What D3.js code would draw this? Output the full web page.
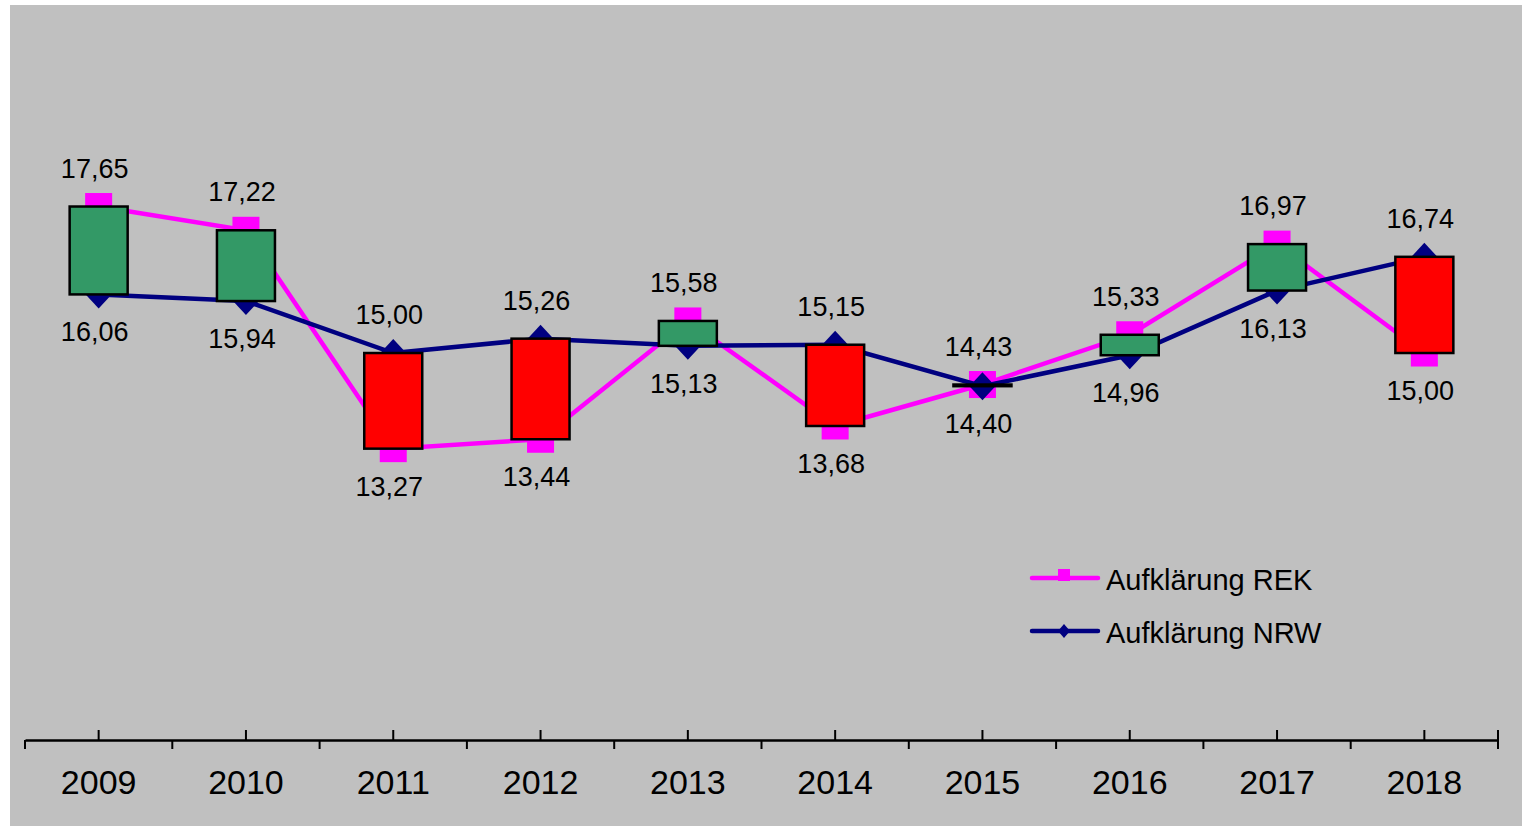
<!DOCTYPE html>
<html>
<head>
<meta charset="utf-8">
<script src="https://cdn.jsdelivr.net/npm/d3@7"></script>
<style>
  body { margin: 0; background: #fff; }
  svg { display: block; font-family: "Liberation Sans", Arial, sans-serif; }
</style>
</head>
<body>
<div id="chart"></div>
<script>
const years = ['2009', '2010', '2011', '2012', '2013', '2014', '2015', '2016', '2017', '2018'];
const rek = [17.65, 17.22, 13.27, 13.44, 15.58, 13.68, 14.43, 15.33, 16.97, 15.00];
const nrw = [16.06, 15.94, 15.00, 15.26, 15.13, 15.15, 14.40, 14.96, 16.13, 16.74];
const seriesNames = ['Aufklärung REK', 'Aufklärung NRW'];

const width = 1526, height = 829;
const pink = '#FF00FF', navy = '#000080', up = '#339966', down = '#FF0000';

const de = d3.formatLocale({ decimal: ',', thousands: '.', grouping: [3], currency: ['', ' €'] });
const fmt = de.format('.2f');

const svg = d3.select('#chart').append('svg')
  .attr('width', width)
  .attr('height', height);

svg.append('rect')
  .attr('x', 10).attr('y', 5)
  .attr('width', 1512).attr('height', 821)
  .attr('fill', '#C0C0C0');

const x = d3.scaleBand().domain(years).range([25, 1498]).padding(0);
const y = d3.scaleLinear().domain([8, 20]).range([740, 76.6]);
const cx = d => x(d) + x.bandwidth() / 2;

// axis: up-ticks at category centres, down-ticks at boundaries
const axis = svg.append('g').attr('transform', 'translate(0,740)');
axis.call(d3.axisBottom(x).tickSize(-10).tickPadding(0).tickSizeOuter(0))
  .call(g => g.select('.domain').attr('stroke', '#000').attr('stroke-width', 2.5))
  .call(g => g.selectAll('.tick line').attr('stroke', '#000').attr('stroke-width', 2))
  .call(g => g.selectAll('.tick text')
    .attr('font-size', 34).attr('font-family', '"Liberation Sans", Arial, sans-serif')
    .attr('fill', '#000').attr('y', 54).attr('dy', 0));

axis.selectAll('.bound')
  .data(d3.range(years.length + 1))
  .join('line')
  .attr('x1', i => 25 + i * x.step())
  .attr('x2', i => 25 + i * x.step())
  .attr('y1', i => i === years.length ? -10 : 0)
  .attr('y2', 9)
  .attr('stroke', '#000').attr('stroke-width', 2);

const line = d3.line().x(d => cx(d[0])).y(d => y(d[1]));

// REK series
svg.append('path')
  .datum(years.map((yr, i) => [yr, rek[i]]))
  .attr('fill', 'none').attr('stroke', pink).attr('stroke-width', 4.5)
  .attr('d', line);
svg.selectAll('.mrek')
  .data(years)
  .join('rect')
  .attr('x', d => cx(d) - 13.5)
  .attr('y', (d, i) => y(rek[i]) - 13.5)
  .attr('width', 27).attr('height', 27)
  .attr('fill', pink);

// NRW series
svg.append('path')
  .datum(years.map((yr, i) => [yr, nrw[i]]))
  .attr('fill', 'none').attr('stroke', navy).attr('stroke-width', 4.5)
  .attr('d', line);
svg.selectAll('.mnrw')
  .data(years)
  .join('path')
  .attr('d', (d, i) => {
    const px = cx(d), py = y(nrw[i]);
    return `M${px},${py - 14}L${px + 13},${py}L${px},${py + 14}L${px - 13},${py}Z`;
  })
  .attr('fill', navy);

// up-down bars
svg.selectAll('.bar')
  .data(years)
  .join('rect')
  .attr('x', d => cx(d) - 29)
  .attr('y', (d, i) => y(Math.max(rek[i], nrw[i])))
  .attr('width', 58)
  .attr('height', (d, i) => Math.abs(y(rek[i]) - y(nrw[i])))
  .attr('fill', (d, i) => rek[i] >= nrw[i] ? up : down)
  .attr('stroke', '#000').attr('stroke-width', 2.5);

// data labels: higher value above, lower below
const labels = [];
years.forEach((yr, i) => {
  [rek[i], nrw[i]].forEach((v, j, pair) => {
    const other = pair[1 - j];
    labels.push({ yr, v, above: v >= other });
  });
});
svg.selectAll('.lbl')
  .data(labels)
  .join('text')
  .attr('x', d => cx(d.yr) - 4)
  .attr('y', d => d.above ? y(d.v) - 29 : y(d.v) + 47)
  .attr('text-anchor', 'middle')
  .attr('font-size', 27)
  .attr('fill', '#000')
  .text(d => fmt(d.v));

// legend
const legend = svg.append('g').attr('transform', 'translate(1032,578)');
seriesNames.forEach((name, i) => {
  const g = legend.append('g').attr('transform', `translate(0,${i * 53})`);
  g.append('line').attr('x1', 0).attr('x2', 66)
    .attr('stroke', i === 0 ? pink : navy).attr('stroke-width', 4.5)
    .attr('stroke-linecap', 'round');
  if (i === 0) {
    g.append('rect').attr('x', 26).attr('y', -9).attr('width', 12).attr('height', 12).attr('fill', pink);
  } else {
    g.append('path').attr('d', 'M32,-7L38,0L32,7L26,0Z').attr('fill', navy);
  }
  g.append('text').attr('x', 74).attr('y', 12)
    .attr('font-size', 29).attr('fill', '#000').text(name);
});
</script>
</body>
</html>
